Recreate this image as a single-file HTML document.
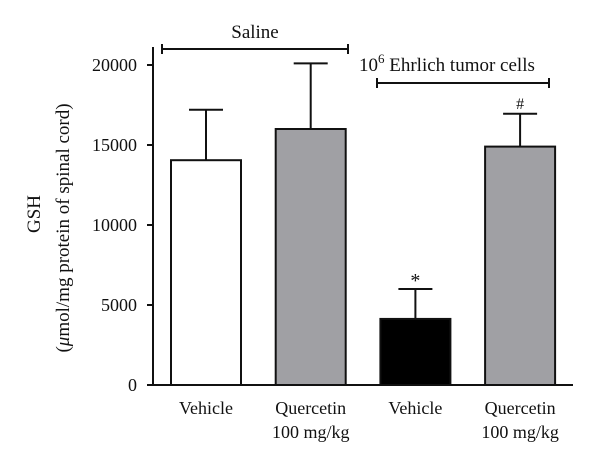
<!DOCTYPE html>
<html><head><meta charset="utf-8"><style>
body{margin:0;background:#fff}
svg text{font-family:"Liberation Serif",serif;fill:#111}
</style></head><body>
<svg width="600" height="468" viewBox="0 0 600 468" xmlns="http://www.w3.org/2000/svg">
<g id="axes"></g>
<g id="bars"></g>
<text transform="translate(40,214) rotate(-90)" text-anchor="middle" font-size="19">GSH</text>
<text transform="translate(69,228) rotate(-90)" text-anchor="middle" font-size="19">(<tspan font-style="italic">μ</tspan>mol/mg protein of spinal cord)</text>
<line x1="162" y1="49" x2="348" y2="49" stroke="#111" stroke-width="2"/>
<line x1="162" y1="44" x2="162" y2="54" stroke="#111" stroke-width="2"/>
<line x1="348" y1="44" x2="348" y2="54" stroke="#111" stroke-width="2"/>
<text x="255" y="38" text-anchor="middle" font-size="19">Saline</text>
<line x1="377" y1="83" x2="549" y2="83" stroke="#111" stroke-width="2"/>
<line x1="377" y1="78" x2="377" y2="88" stroke="#111" stroke-width="2"/>
<line x1="549" y1="78" x2="549" y2="88" stroke="#111" stroke-width="2"/>
<text x="359" y="71" font-size="19">10<tspan dy="-8" font-size="13">6</tspan><tspan dy="8"> Ehrlich tumor cells</tspan></text>
</svg>
<script>
const categories=["Vehicle","Quercetin|100 mg/kg","Vehicle","Quercetin|100 mg/kg"];
const means=[14050,16000,4130,14900];
const errors=[3150,4100,1870,2050];
const fills=["#ffffff","#a0a0a4","#000000","#a0a0a4"];
const marks=["","","*","#"];
const yTicks=[0,5000,10000,15000,20000];
const NS="http://www.w3.org/2000/svg";
const y0=385,yTop=65,yMax=20000,xAxis=153,xEnd=573,x0=166,step=104.7,bw=70;
function y(v){return y0-(v/yMax)*(y0-yTop);}
function xb(i){return x0+5+i*step;}
function mk(t,a,p){const e=document.createElementNS(NS,t);for(const k in a)e.setAttribute(k,a[k]);p.appendChild(e);return e;}
const ax=document.getElementById('axes'),bg=document.getElementById('bars');
let l=mk('line',{x1:xAxis,y1:y0,x2:xAxis,y2:y(yMax)-18,stroke:'#111','stroke-width':2},ax);


l=mk('line',{x1:xAxis-1,y1:y0,x2:xEnd,y2:y0,stroke:'#111','stroke-width':2},ax);


yTicks.forEach(v=>{
 const t=mk('line',{x1:xAxis-6,y1:y(v),x2:xAxis,y2:y(v),stroke:'#111','stroke-width':2},ax);
 
 
 const tx=mk('text',{x:137,y:y(v)+6,'text-anchor':'end','font-size':18},ax);
 tx.textContent=v;
 
 
});
means.forEach((m,i)=>{
 const x=xb(i),cx=x+bw/2,top=y(m),et=y(m+errors[i]);
 const e=mk('line',{x1:cx,y1:top,x2:cx,y2:et,stroke:'#111','stroke-width':2},bg);
 
 
 const c=mk('line',{x1:cx-17,y1:et,x2:cx+17,y2:et,stroke:'#111','stroke-width':2},bg);
 
 
 const r=mk('rect',{x:x,y:top,width:bw,height:y0-top,fill:fills[i],stroke:'#111','stroke-width':2},bg);
 
 
 if(marks[i]){const s=mk('text',{x:cx,y:et-(marks[i]=="*"?2:5),'text-anchor':'middle','font-size':marks[i]=="*"?20:16},bg);s.textContent=marks[i];
 
 }
 categories[i].split('|').forEach((ln,j)=>{
  const t=mk('text',{x:cx,y:414+j*24,'text-anchor':'middle','font-size':18},bg);t.textContent=ln;
  
  
 });
});
</script>
</body></html>
